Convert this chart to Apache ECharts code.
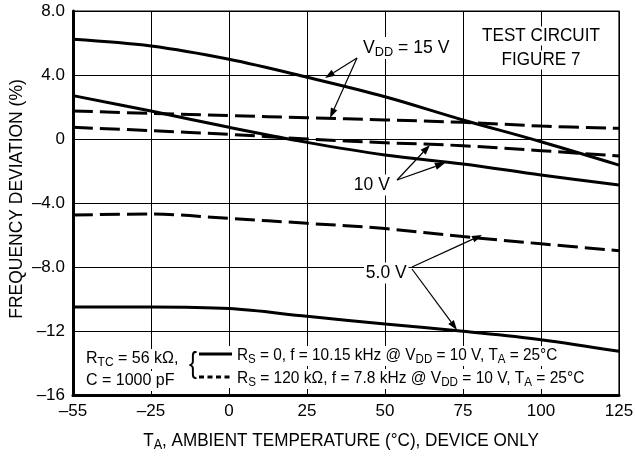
<!DOCTYPE html>
<html>
<head>
<meta charset="utf-8">
<script src="https://cdn.jsdelivr.net/npm/echarts@6/dist/echarts.min.js"></script>
<style>html,body{margin:0;padding:0;background:#fff}#c{width:635px;height:458px}</style>
</head>
<body>
<div id="c"></div>
<script>
// ---- data ----
const temps = [-55, -25, 0, 25, 50, 75, 100, 125];
const xTickLabels = ['\u201355', '\u201325', '0', '25', '50', '75', '100', '125'];
const yTickLabels = ['\u201316', '\u201312', '\u20138.0', '\u20134.0', '0', '4.0', '8.0'];
const vdd15Solid  = [6.23, 5.81, 4.98, 3.86, 2.64, 1.19, -0.17, -1.63];
const vdd15Dashed = [1.75, 1.60, 1.46, 1.33, 1.19, 1.04, 0.81, 0.67];
const vdd10Solid  = [2.71, 1.75, 0.73, -0.21, -1.00, -1.56, -2.25, -2.88];
const vdd10Dashed = [0.73, 0.52, 0.29, 0.00, -0.23, -0.42, -0.73, -1.06];
const vdd5Solid   = [-10.5, -10.5, -10.6, -11.08, -11.56, -12.02, -12.54, -13.27];
const vdd5Dashed  = [-4.75, -4.69, -4.96, -5.27, -5.6, -6.1, -6.55, -6.98];

const FONT = "'Liberation Sans',Arial,sans-serif";
// axis position: ticks are evenly spaced, the -55 slot occupies one 25-unit step
function pos(T) { return T < -25 ? -25 + (T + 25) * 25 / 30 : T; }
function pts(vals) { return temps.map((t, i) => [pos(t), vals[i]]); }
const xPositions = temps.map(pos);

function solid(data) {
  return { type: 'line', data: pts(data), smooth: 0.35, symbol: 'none',
    lineStyle: { color: '#000', width: 3, type: 'solid' }, z: 3 };
}
function dashed(data) {
  return { type: 'line', data: pts(data), smooth: 0.35, symbol: 'none',
    lineStyle: { color: '#000', width: 3, type: [20, 7], cap: 'butt' }, z: 3 };
}

function arrow(x1, y1, x2, y2) {
  const ang = Math.atan2(y2 - y1, x2 - x1);
  const L = 10, W = 3.5;
  const bx = x2 - L * Math.cos(ang), by = y2 - L * Math.sin(ang);
  const px = -Math.sin(ang) * W, py = Math.cos(ang) * W;
  return [
    { type: 'line', z: 20, shape: { x1, y1, x2: bx, y2: by }, style: { stroke: '#000', lineWidth: 1.2 } },
    { type: 'polygon', z: 20, shape: { points: [[x2, y2], [bx + px, by + py], [bx - px, by - py]] }, style: { fill: '#000' } }
  ];
}

const rich = {
  n: { fontFamily: FONT, fontSize: 18, color: '#000', lineHeight: 22, verticalAlign: 'middle' },
  s: { fontFamily: FONT, fontSize: 13, color: '#000', lineHeight: 13, verticalAlign: 'bottom' },
  b: { fontFamily: FONT, fontSize: 19, color: '#000', lineHeight: 22, verticalAlign: 'middle' },
  bs: { fontFamily: FONT, fontSize: 14, color: '#000', lineHeight: 13, verticalAlign: 'bottom' },
  ln: { fontFamily: FONT, fontSize: 16, color: '#000', lineHeight: 20, verticalAlign: 'middle' },
  ls: { fontFamily: FONT, fontSize: 12, color: '#000', lineHeight: 12, verticalAlign: 'bottom' }
};

const chart = echarts.init(document.getElementById('c'), null, { renderer: 'canvas' });
const graphics = [];
function plain(x, y, text, size, sx, align, bg, pad) {
  return { type: 'text', z: 15, x: x, y: y, scaleX: sx, style: { text: text, fontFamily: FONT, fontSize: size, fill: '#000',
    textAlign: align, textVerticalAlign: 'middle', backgroundColor: bg ? '#fff' : 'transparent', padding: pad || [0, 1] } };
}
function richText(x, y, text, sx, align, bg, pad, rot) {
  return { type: 'text', z: 15, x: x, y: y, scaleX: sx, rotation: rot || 0, style: { text: text, rich: rich,
    textAlign: align, textVerticalAlign: 'middle', backgroundColor: bg ? '#fff' : 'transparent', padding: pad || [0, 1] } };
}
graphics.push(richText(362, 48, '{n|V}{s|DD}{n| = 15 V}', 0.98, 'left', true));
graphics.push(plain(541, 36, 'TEST CIRCUIT', 19, 0.9, 'center', true));
graphics.push(plain(541, 60, 'FIGURE 7', 19, 0.9, 'center', true));
graphics.push(plain(352, 185, '10 V', 19, 0.92, 'left', true, [1, 2]));
graphics.push(plain(364, 273, '5.0 V', 19, 0.92, 'left', true, [1, 2]));
graphics.push(richText(84, 359, '{ln|R}{ls|TC}{ln| = 56 k\u03A9,}', 1, 'left', true, [0, 2]));
graphics.push(plain(84, 381, 'C = 1000 pF', 16, 1, 'left', true, [2, 2]));
graphics.push({ type: 'rect', z: 14, shape: { x: 186, y: 346, width: 50, height: 42 }, style: { fill: '#fff' } });
graphics.push(plain(193, 365, '{', 30, 0.8, 'center', false));
graphics.push({ type: 'line', z: 16, shape: { x1: 199, y1: 354, x2: 232, y2: 354 }, style: { stroke: '#000', lineWidth: 3 } });
graphics.push({ type: 'line', z: 16, shape: { x1: 199, y1: 377, x2: 232, y2: 377 }, style: { stroke: '#000', lineWidth: 3, lineDash: [5, 3.5] } });
graphics.push(richText(235, 356, '{ln|R}{ls|S}{ln| = 0, f = 10.15 kHz @ V}{ls|DD}{ln| = 10 V, T}{ls|A}{ln| = 25\u00B0C}', 0.96, 'left', true, [0, 2]));
graphics.push(richText(235, 379, '{ln|R}{ls|S}{ln| = 120 k\u03A9, f = 7.8 kHz @ V}{ls|DD}{ln| = 10 V, T}{ls|A}{ln| = 25\u00B0C}', 0.97, 'left', true, [0, 2]));
// axis titles
graphics.push(richText(341, 441, '{b|T}{bs|A}{b|, AMBIENT TEMPERATURE (\u00B0C), DEVICE ONLY}', 0.9, 'center', false));
graphics.push(plain(17, 199, 'FREQUENCY DEVIATION (%)', 19, 0.92, 'center', false));
graphics[graphics.length - 1].rotation = Math.PI / 2;
[[357, 58, 325, 78], [357, 58, 330, 118], [397, 180, 430, 145], [397, 180, 445, 163], [412, 267, 482, 235], [412, 269, 457, 330]]
  .forEach(a => graphics.push(...arrow(a[0], a[1], a[2], a[3])));

chart.setOption({
  animation: false,
  backgroundColor: '#fff',
  grid: { left: 73, right: 16, top: 11, bottom: 63, show: true, borderColor: '#000', borderWidth: 1.2,
    containLabel: false, outerBoundsMode: 'none' },
  xAxis: {
    type: 'value', min: -50, max: 125, interval: 25,
    axisLine: { show: true, onZero: false, lineStyle: { color: '#000', width: 3 } },
    axisTick: { show: false },
    splitLine: { show: true, lineStyle: { color: '#000', width: 1 } },
    axisLabel: { color: '#000', fontFamily: FONT, fontSize: 17, margin: 8,
      formatter: v => xTickLabels[xPositions.indexOf(v)] }
  },
  yAxis: {
    type: 'value', min: -16, max: 8, interval: 4,
    axisLine: { show: true, onZero: false, lineStyle: { color: '#000', width: 3 } },
    axisTick: { show: false },
    splitLine: { show: true, lineStyle: { color: '#000', width: 1 } },
    axisLabel: { color: '#000', fontFamily: FONT, fontSize: 17, margin: 8,
      formatter: v => yTickLabels[(v + 16) / 4] }
  },
  series: [
    solid(vdd15Solid), dashed(vdd15Dashed),
    solid(vdd10Solid), dashed(vdd10Dashed),
    solid(vdd5Solid), dashed(vdd5Dashed)
  ],
  graphic: graphics
});
</script>
</body>
</html>
